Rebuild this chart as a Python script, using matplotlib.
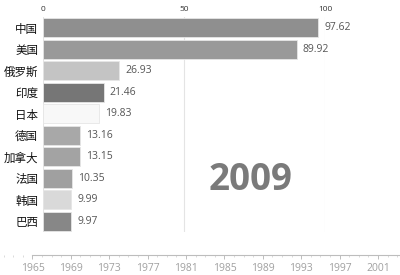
import matplotlib
matplotlib.use("Agg")
import matplotlib.pyplot as plt
from matplotlib.ticker import MultipleLocator

countries = ["中国", "美国", "俄罗斯", "印度", "日本", "德国", "加拿大", "法国", "韩国", "巴西"]
values = [97.62, 89.92, 26.93, 21.46, 19.83, 13.16, 13.15, 10.35, 9.99, 9.97]
bar_colors = ["#8f8f8f", "#999999", "#c4c4c4", "#767676", "#f8f8f8",
              "#a8a8a8", "#a3a3a3", "#a0a0a0", "#d9d9d9", "#878787"]
x_ticks = [0, 50, 100]
year = "2009"
timeline_start, timeline_end = 1965, 2003.3
timeline_labels = list(range(1965, 2002, 4))

W, H = 400, 275
fig = plt.figure(figsize=(4, 2.75), dpi=100)

# main bar axes
ax = fig.add_axes([43 / W, 1 - 232 / H, 282 / W, 215 / H])
ypos = list(range(len(countries)))
ax.barh(ypos, values, height=0.88, color=bar_colors, edgecolor="#e6e6e6", linewidth=0.6, zorder=3)
ax.set_xlim(0, 100)
ax.set_ylim(len(countries) - 0.5, -0.5)
ax.set_yticks(ypos)
ax.set_yticklabels(countries, family=["Noto Sans CJK SC", "DejaVu Sans"], fontsize=8.3,
                   color="#111111", fontweight="medium")
ax.tick_params(axis="y", length=0, pad=3.5)
ax.xaxis.tick_top()
ax.set_xticks(x_ticks)
ax.set_xticklabels([str(t) for t in x_ticks], fontsize=6, color="#333333", family="Open Sans")
ax.tick_params(axis="x", length=0, pad=3)
ax.grid(axis="x", color="#e4e4e4", linewidth=0.8, zorder=0)
for s in ax.spines.values():
    s.set_visible(False)
for y, v in zip(ypos, values):
    ax.annotate(f"{v:.2f}", (v, y), xytext=(4.5, 0), textcoords="offset points",
                va="center", ha="left", fontsize=7.5, color="#555555", family="Open Sans",
                annotation_clip=False)

fig.text(250 / W, 1 - 180 / H, year, ha="center", va="center", fontsize=26.5,
         fontweight="bold", color="#7a7a7a", family="Open Sans")

# timeline axes
px_per_year = 9.6
x0 = 1965 - 32.5 / px_per_year
x1 = 1965 + (W - 32.5) / px_per_year
tl = fig.add_axes([0, 1 - 255 / H, 1, 0.01])
tl.set_xlim(x0, x1)
tl.set_ylim(0, 1)
for k in ["top", "left", "right"]:
    tl.spines[k].set_visible(False)
tl.spines["bottom"].set_bounds(timeline_start, timeline_end)
tl.spines["bottom"].set_color("#bdbdbd")
tl.spines["bottom"].set_linewidth(0.8)
tl.set_yticks([])
tl.set_xticks(timeline_labels)
tl.set_xticklabels([str(t) for t in timeline_labels], fontsize=7.5, color="#a0a0a0", family="Open Sans")
tl.xaxis.set_minor_locator(MultipleLocator(1))
tl.tick_params(axis="x", which="major", length=3, width=0.7, color="#bdbdbd", pad=2.5)
tl.tick_params(axis="x", which="minor", length=1.5, width=0.5, color="#cccccc")
tl.patch.set_visible(False)

fig.savefig("out.png", dpi=100)
